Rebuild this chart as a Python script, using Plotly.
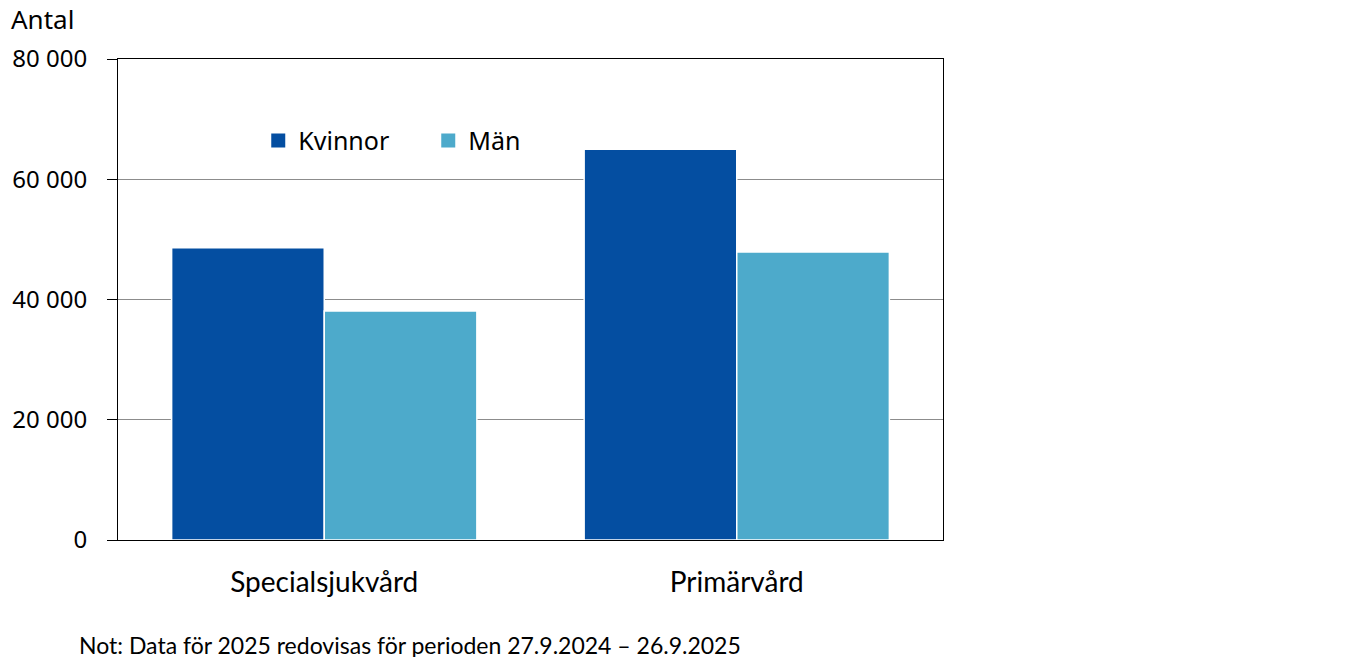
import plotly.graph_objects as go

categories = ["Specialsjukvård", "Primärvård"]
kvinnor = [48600, 65000]
man = [38100, 47900]
series_names = ["Kvinnor", "Män"]
colors = ["#044EA1", "#4DAACB"]
tick_vals = [0, 20000, 40000, 60000, 80000]
tick_text = ["0", "20 000", "40 000", "60 000", "80 000"]

fig = go.Figure()
for vals, name, col in zip([kvinnor, man], series_names, colors):
    fig.add_trace(go.Bar(x=categories, y=vals, name=name, showlegend=False,
                         marker=dict(color=col, line=dict(color="white", width=1.5))))
# legend entries with larger square symbols
for name, col in zip(series_names, colors):
    fig.add_trace(go.Scatter(x=[None], y=[None], mode="markers", name=name,
                             marker=dict(symbol="square", size=14, color=col, line=dict(width=0))))

# page body has an 8px margin, so the figure is shifted by 8px
fig.update_layout(
    width=1348, height=649,
    margin=dict(l=110, r=413, t=51, b=117),
    plot_bgcolor="white", paper_bgcolor="white",
    barmode="group", bargap=0.26, bargroupgap=0,
    font=dict(family="Noto Sans", size=25, color="black"),
    showlegend=True,
    legend=dict(orientation="h", x=0.17, y=0.83, xanchor="left", yanchor="middle",
                font=dict(family="Noto Sans", size=25), bgcolor="rgba(0,0,0,0)",
                entrywidth=125, itemwidth=30),
)
fig.update_yaxes(range=[0, 80000], tickvals=tick_vals, ticktext=tick_text,
                 showgrid=True, gridcolor="#8c8c8c", gridwidth=1,
                 showline=True, linecolor="black", linewidth=1, mirror=True,
                 ticks="outside", ticklen=10, tickcolor="black",
                 tickfont=dict(family="Noto Sans", size=24), zeroline=False,
                 ticklabelstandoff=15, automargin=False)
fig.update_xaxes(showline=True, linecolor="black", linewidth=1, mirror=True,
                 ticks="", tickfont=dict(family="Lato", size=28),
                 ticklabelstandoff=17, automargin=False)

fig.add_annotation(text="Antal", xref="paper", yref="paper",
                   x=(9 - 118) / 825, y=(540 - 19) / 481, xanchor="left", yanchor="middle",
                   showarrow=False, font=dict(family="Noto Sans", size=26))
fig.add_annotation(text="Not: Data för 2025 redovisas för perioden 27.9.2024 – 26.9.2025",
                   xref="paper", yref="paper",
                   x=(77 - 118) / 825, y=(540 - 645) / 481, xanchor="left", yanchor="middle",
                   showarrow=False, font=dict(family="Lato", size=23))

fig.write_html("out.html")
